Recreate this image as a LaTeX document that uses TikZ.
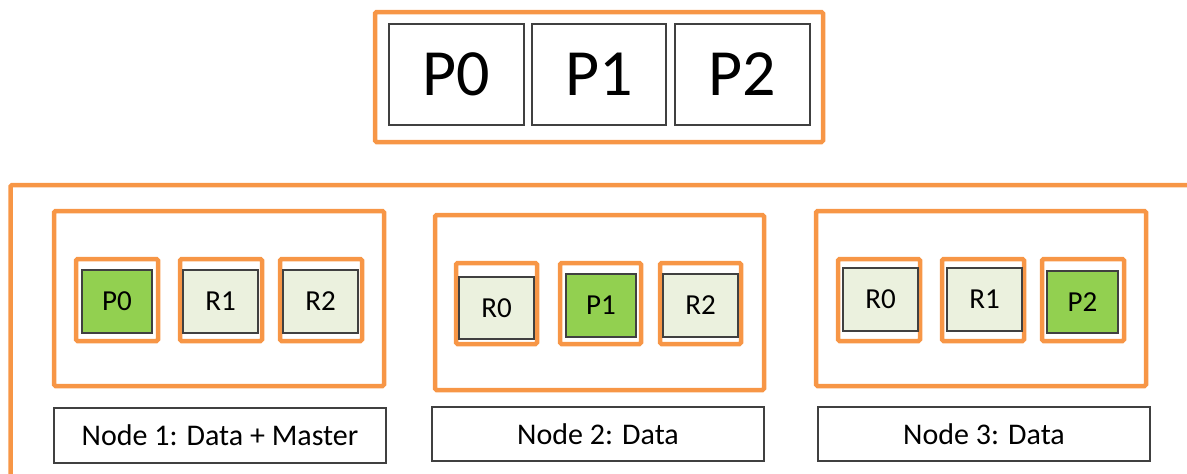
\documentclass[tikz,border=0pt]{standalone}
\usepackage{fontspec}
\setmainfont{Carlito}
\definecolor{orangec}{HTML}{F79646}
\definecolor{greenc}{HTML}{92D050}
\definecolor{lightc}{HTML}{EBF1DE}
\definecolor{edgec}{HTML}{404040}
\tikzset{
  obox/.style={draw=orangec, line width=4.5pt, rounded corners=1.5pt, inner sep=0pt},
  pbox/.style={draw=edgec, line width=1.2pt, inner sep=0pt, font=\fontsize{66}{66}\selectfont},
  prim/.style={draw=edgec, line width=1.2pt, fill=greenc, inner sep=0pt, font=\fontsize{29}{29}\selectfont},
  repl/.style={draw=edgec, line width=1.2pt, fill=lightc, inner sep=0pt, font=\fontsize{29}{29}\selectfont},
  lbox/.style={draw=edgec, line width=1.2pt, inner sep=0pt, minimum width=332pt, font=\fontsize{30}{30}\selectfont},
  nbox/.style={obox, minimum width=330pt, minimum height=175pt},
  sbox/.style={obox, minimum width=82pt, minimum height=82pt},
}
\begin{document}
\begin{tikzpicture}[x=1pt,y=-1pt]
\useasboundingbox (0,0) rectangle (1187,474);
\begin{scope}
\clip (0,0) rectangle (1187,474);
% top index
\node[obox, minimum width=448pt, minimum height=130pt] (idx) at (599,77) {};
\node[pbox, minimum width=135pt, minimum height=101pt] (t0) at (456.5,74.5) {P0};
\node[pbox, minimum width=134pt, minimum height=101pt] (t1) at (599,74.5) {P1};
\node[pbox, minimum width=135pt, minimum height=101pt] (t2) at (742.5,74.5) {P2};
% cluster frame
\coordinate (fa) at (10.5,480);
\coordinate (fb) at (10.5,185);
\coordinate (fc) at (1195,185);
\draw[orangec, line width=4.5pt, rounded corners=1.5pt] (fa) -- (fb) -- (fc);
% node 1
\node[nbox] (n1) at (219,298.5) {};
\node[sbox] (n1a) at (117,300) {};
\node[sbox] (n1b) at (221,300) {};
\node[sbox] (n1c) at (321,300) {};
\node[prim, minimum width=70pt, minimum height=63pt] (n1p0) at (117,301.5) {P0};
\node[repl, minimum width=75pt, minimum height=63pt] (n1r1) at (220.5,301.5) {R1};
\node[repl, minimum width=75pt, minimum height=63pt] (n1r2) at (320.5,301.5) {R2};
\node[lbox, minimum height=55pt] (l1) at (220,435.5) {Node 1: Data + Master};
% node 2
\node[nbox, minimum width=329pt] (n2) at (599.5,302.5) {};
\node[sbox, minimum width=81pt, minimum height=81pt] (n2a) at (496.5,303.5) {};
\node[sbox, minimum width=81pt, minimum height=81pt] (n2b) at (600.5,303.5) {};
\node[sbox, minimum width=81pt, minimum height=81pt] (n2c) at (700.5,303.5) {};
\node[repl, minimum width=75pt, minimum height=62pt] (n2r0) at (496.5,308) {R0};
\node[prim, minimum width=70pt, minimum height=63pt] (n2p1) at (601,305.5) {P1};
\node[repl, minimum width=75pt, minimum height=63pt] (n2r2) at (700.5,305.5) {R2};
\node[lbox, minimum height=54pt] (l2) at (598,434) {Node 2: Data};
% node 3
\node[nbox] (n3) at (981,298.5) {};
\node[sbox] (n3a) at (879,300) {};
\node[sbox] (n3b) at (983,300) {};
\node[sbox] (n3c) at (1083,300) {};
\node[repl, minimum width=75pt, minimum height=63pt] (n3r0) at (880.5,299.5) {R0};
\node[repl, minimum width=75pt, minimum height=63pt] (n3r1) at (984.5,299.5) {R1};
\node[prim, minimum width=71pt, minimum height=62pt] (n3p2) at (1082.5,302) {P2};
\node[lbox, minimum height=54pt] (l3) at (984,434) {Node 3: Data};
\end{scope}
\end{tikzpicture}
\end{document}
